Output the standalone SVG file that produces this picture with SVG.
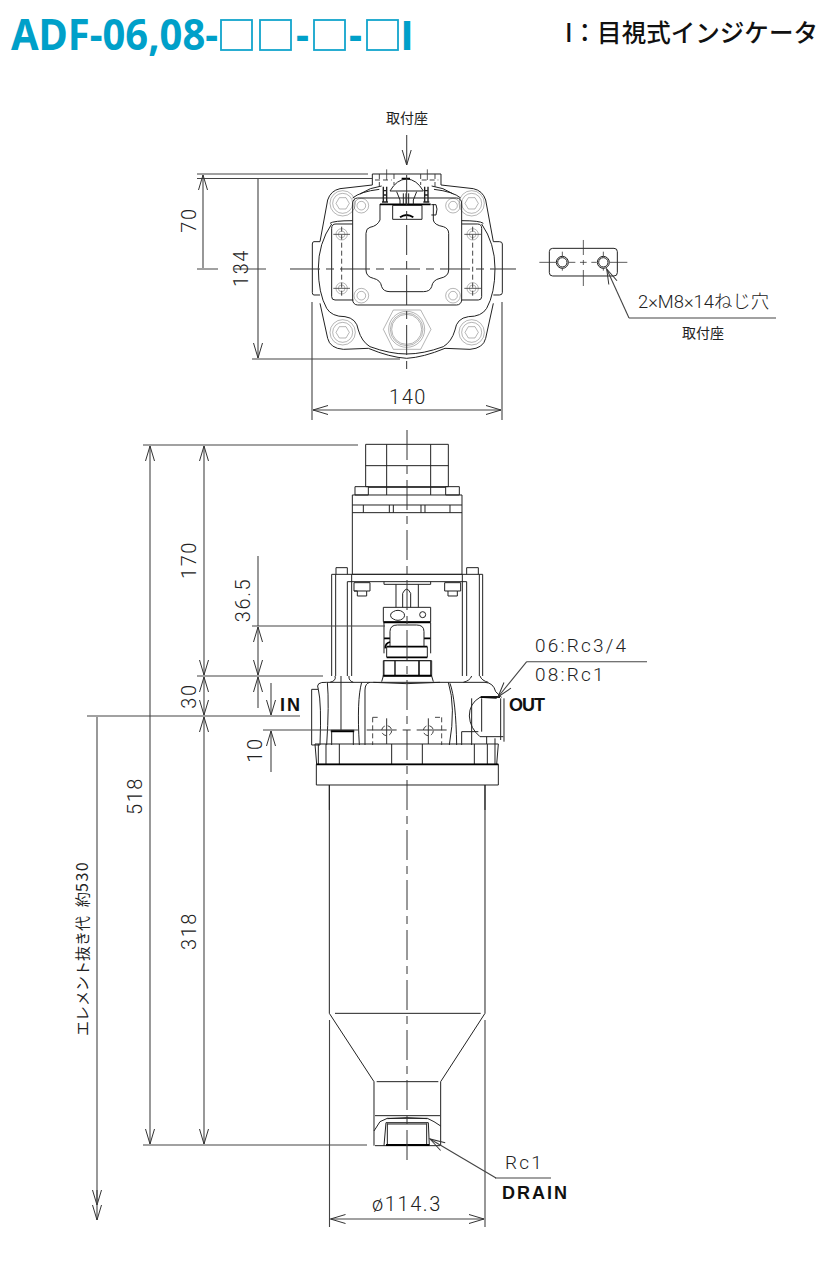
<svg xmlns="http://www.w3.org/2000/svg" width="824" height="1274" viewBox="0 0 824 1274">
<style>
.l{fill:none;stroke:#222;stroke-width:1;vector-effect:non-scaling-stroke}
.t{fill:none;stroke:#333;stroke-width:.8;vector-effect:non-scaling-stroke}
.k{fill:none;stroke:#000;stroke-width:1.8;vector-effect:non-scaling-stroke}
.h{fill:none;stroke:#222;stroke-width:1.400;vector-effect:non-scaling-stroke}
.d{fill:none;stroke:#333;stroke-width:.9;stroke-dasharray:5 3;vector-effect:non-scaling-stroke}
.c{fill:none;stroke:#333;stroke-width:1;stroke-dasharray:30 6 8 6;vector-effect:non-scaling-stroke}
.dim{fill:none;stroke:#444;stroke-width:1.1}
.a{marker-end:url(#ah)}
.s{marker-start:url(#ah);marker-end:url(#ah)}
text{font-family:"Liberation Sans",Arial,sans-serif;fill:#222}
.n{font-family:Roboto,"Liberation Sans",sans-serif;font-weight:300;font-size:20px;letter-spacing:1.6px;text-anchor:middle}
.b{font-family:"Liberation Sans",sans-serif;font-size:18px;font-weight:700;letter-spacing:2px;fill:#111}
.m{font-family:Roboto,"Liberation Sans",sans-serif;font-weight:300;font-size:19px;letter-spacing:2.2px}
.j{font-family:"Noto Sans CJK JP",sans-serif;font-size:14px;text-anchor:middle}
.box{fill:none;stroke:#12a5cc;stroke-width:1.8}
.ti{font-family:"Noto Sans",sans-serif;font-size:43px;font-weight:700;fill:#00a0c9}
</style>
<defs>
<marker id="ah" markerUnits="userSpaceOnUse" markerWidth="18" markerHeight="12" refX="16" refY="6" orient="auto-start-reverse" viewBox="0 0 18 12"><path d="M1 1.500L16 6L1 10.500" fill="none" stroke="#333" stroke-width="1"/></marker>
</defs>

<g id="title">
<text class="ti" x="11" y="50" textLength="207" lengthAdjust="spacingAndGlyphs">ADF-06,08-</text>
<rect class="box" x="221" y="20" width="31" height="30"/>
<rect class="box" x="260" y="20" width="31" height="30"/>
<text class="ti" x="296" y="50" textLength="13" lengthAdjust="spacingAndGlyphs">-</text>
<rect class="box" x="314" y="20" width="31" height="30"/>
<text class="ti" x="349" y="50" textLength="13" lengthAdjust="spacingAndGlyphs">-</text>
<rect class="box" x="367" y="20" width="31" height="30"/>
<text x="401" y="50" font-size="43" font-weight="700" style='font-family:"Liberation Sans",sans-serif;fill:#00a0c9' textLength="12" lengthAdjust="spacingAndGlyphs">I</text>
</g>
<g id="legend">
<text x="565" y="42" font-size="25" font-weight="500" textLength="253" lengthAdjust="spacingAndGlyphs" style='font-family:"Noto Sans CJK JP",sans-serif;fill:#111'>I：目視式インジケータ</text>
</g>

<g id="top-view" transform="translate(290 100) scale(.33333)">
<path class="l" d="M247 255L150 266Q122 272 113 300L90 425M90 610L113 715Q120 745 160 748L235 745Q300 772 350 775Q400 772 465 745L540 748Q580 745 587 715L610 610M453 255L550 266Q578 272 587 300L610 425"/>
<path class="l" d="M90 425H72Q67 425 67 432V578Q67 585 72 585H90M610 425H628Q637 425 637 432V578Q637 585 628 585H610"/>
<path class="l" d="M125 372Q85 430 85 505Q85 580 110 625Q125 650 165 650Q200 655 205 690Q215 725 240 740Q300 762 350 762Q400 762 460 740Q485 725 495 690Q500 655 535 650Q575 650 590 625Q615 580 615 505Q615 430 575 372"/>
<path class="l" d="M120 370Q130 362 188 362M580 370Q570 362 515 362M188 294Q210 275 268 268M512 294Q490 275 432 268"/>
<path class="l" d="M188 372H138Q125 372 125 385V590Q125 600 135 600H190M515 372H562Q575 372 575 385V590Q575 600 565 600H515"/>
<rect class="l" x="188" y="294" width="327" height="321" rx="15"/>
<path class="l" d="M270 312V360Q262 378 240 382Q228 385 228 400V510Q228 530 250 535Q272 540 275 560Q280 575 300 575H400Q420 575 425 560Q428 540 450 535Q476 530 476 510V400Q476 385 460 380Q432 375 430 360V312"/>
<rect class="l" x="308" y="316" width="88" height="42"/>
<path class="k" d="M330 352Q350 338 370 352M270 313H422M335 236H360"/>
<path class="l" d="M424 314H438Q444 325 438 345H424"/>
<path class="l" d="M247 255V222H453V255"/>
<path class="l" d="M210 282Q240 262 275 258M490 282Q460 262 425 258M300 273Q320 238 350 237Q380 238 400 273M300 273H400M320 275L330 300V313M380 275L370 300V313M340 280V313M348 280V313M356 280V313"/>
<path class="h" d="M280 260V306M290 260V306M404 260V306M414 260V306M280 272H290M280 285H290M404 272H414M404 285H414M276 306H294M400 306H418"/>
<path class="d" d="M268 222V262M312 222V255M392 222V255M435 222V262M255 240H305M395 240H445"/>
<path class="t" d="M290 208V240M412 208V240"/>
<g class="l">
<circle cx="158" cy="310" r="38"/><circle cx="158" cy="310" r="30"/><path d="M178 310L168 327H148L138 310L148 293H168Z"/>
<circle cx="545" cy="310" r="38"/><circle cx="545" cy="310" r="30"/><path d="M565 310L555 327H535L525 310L535 293H555Z"/>
<circle cx="158" cy="697" r="38"/><circle cx="158" cy="697" r="30"/><path d="M178 697L168 714H148L138 697L148 680H168Z"/>
<circle cx="545" cy="697" r="38"/><circle cx="545" cy="697" r="30"/><path d="M565 697L555 714H535L525 697L535 680H555Z"/>
<circle cx="214" cy="317" r="22"/><circle cx="214" cy="317" r="13"/>
<circle cx="489" cy="317" r="22"/><circle cx="489" cy="317" r="13"/>
<circle cx="214" cy="587" r="22"/><circle cx="214" cy="587" r="13"/>
<circle cx="489" cy="587" r="22"/><circle cx="489" cy="587" r="13"/>
<circle cx="155" cy="403" r="17"/><circle cx="155" cy="403" r="10"/>
<circle cx="548" cy="403" r="17"/><circle cx="548" cy="403" r="10"/>
<circle cx="155" cy="565" r="17"/><circle cx="155" cy="565" r="10"/>
<circle cx="548" cy="565" r="17"/><circle cx="548" cy="565" r="10"/>
<path d="M423 688L392 630H310L280 688L310 748H392Z"/><circle cx="350" cy="688" r="54"/><circle cx="350" cy="688" r="49"/><circle cx="350" cy="688" r="45"/>
</g>
<path class="d" d="M155 380V590M548 380V590"/>
<path class="t" d="M130 403H180M130 565H180M523 403H573M523 565H573"/>
<path class="c" d="M0 507H678M350 225V812"/>
</g>

<g id="mounting-seat" transform="translate(530 230) scale(.33333)">
<rect class="l" x="58" y="55" width="204" height="83" rx="10"/>
<circle class="l" cx="97" cy="97" r="18"/><circle class="l" cx="97" cy="97" r="14"/><circle class="l" cx="220" cy="97" r="18"/><circle class="l" cx="220" cy="97" r="14"/>
<path class="t" d="M28 97H78M116 97H136M150 97H170M184 97H200M240 97H292M97 65V80M97 114V122M220 65V80M220 114V122M160 30V75M160 90V105M160 120V168"/>
</g>

<g id="side-view-upper" transform="translate(310 430) scale(.33333)">
<rect class="l" x="167" y="43" width="248" height="127"/>
<path class="l" d="M167 107H415M230 43V195M362 43V195M175 172H407"/>
<rect class="l" x="135" y="170" width="40" height="25"/><rect class="l" x="407" y="170" width="41" height="25"/>
<rect class="l" x="127" y="195" width="329" height="238"/>
<path class="l" d="M127 225H456M127 248H456M160 225V248M238 225V248M250 225V248M333 225V248M345 225V248M420 225V248"/>
<path class="l" d="M65 433H518M65 433V738M77 433V738M112 455V738M125 433V738M457 433V738M470 455V738M508 433V738M518 433V738M112 455H470"/>
<path class="l" d="M78 433V413H112V433M470 433V413H505V433M222 455V463H362V455M258 463V532M325 463V532M278 532V490Q290 465 302 490V532"/>
<path class="l" d="M132 458H180V483H170V498H142V483H132ZM404 458H452V483H442V498H414V483H404ZM132 483H170M414 483H442"/>
<path class="l" d="M220 532H362V575H220ZM250 545A20 15 0 1 1 250 567A14 12 0 0 1 250 545Z"/><circle class="l" cx="338" cy="554" r="9"/>
<path class="k" d="M220 577H362M222 625H240M342 625H362M230 650H352M230 682H352"/>
<path class="l" d="M240 650V605Q240 585 262 585H320Q342 585 342 605V650M222 578V670M362 578V670M230 650V682M352 650V682M222 692H362V738H222ZM255 692V738M326 692V738"/>
<path class="k" d="M226 655Q225 640 240 636"/>
</g>

<g id="side-view-body" transform="translate(240 640) scale(.33333)">
<path class="l" d="M215 148H235Q245 190 240 315H215ZM235 148Q225 125 260 127H735Q760 128 767 155M262 127Q268 190 260 315M303 108V275M285 108Q290 122 270 127M327 108Q325 122 340 127M358 315Q350 180 365 127M375 315V150Q375 130 390 127M628 315Q648 200 625 127M650 315Q648 180 630 130M695 315V175M695 108Q690 122 670 127M720 108Q725 122 745 127"/>
<path class="l" d="M425 125L430 108V62H575V108L580 125M465 62V105M538 62V105M428 108H575M400 127Q500 135 600 127"/>
<path class="k" d="M430 107H575"/>
<rect class="k" x="275" y="272" width="65" height="2"/>
<path class="l" d="M275 275V315M340 275V315M665 315V275H715M767 155L785 172"/>
<path class="l" d="M770 175L720 172Q688 190 688 228Q690 265 720 290H790M782 175V300M792 175V305M725 175V275M740 290V312M765 295V312"/>
<path class="k" d="M722 171H780"/>
<path class="d" d="M398 232V315M605 232V315M398 232H420M585 232H605"/>
<path class="c" d="M380 270H625M440 235V312M565 235V312"/>
<circle class="d" cx="440" cy="272" r="15"/><circle class="d" cx="565" cy="272" r="15"/>
<path class="l" d="M225 312H775M225 312L230 373M775 312L770 373M235 312V373M258 312V373M298 312V373M455 312V373M547 312V373M703 312V373M742 312V373M765 312V373"/>
<rect class="l" x="229" y="373" width="546" height="62"/>
<path class="k" d="M229 373H775"/>
<path class="l" d="M268 435V510M735 435V510"/>
</g>

<g id="side-view-lower" transform="translate(310 1000) scale(.33333)">
<path class="l" d="M58 -645V40M525 -645V40M58 40L192 245V437M525 40L392 245V437M75 40H512M200 245H385M195 347H390M192 393L210 365L232 355H352L372 365L392 378M195 437H390"/>
<path class="l" d="M222 437L228 368H355L358 437M232 370V437M350 370V437M232 372H350M232 356Q290 350 352 356"/>
<path class="k" d="M228 435H358"/>
</g>

<path class="c" d="M407 430V1160"/>

<g id="connectors">
<g class="dim">
<path class="a" d="M406.700 135V165"/>
<path d="M197 174H368M197 178.500H372M197 269H218M234 269H266M252 359H400"/>
<path d="M312 302V420M502 302V420"/>
<path class="s" d="M313 410H501"/>
<path class="s" d="M203 175V268M258 179V358"/>
<path d="M143 445H358M143 1145H367M197 676H323M252 626H385M87 716H300M263 730H358"/>
<path class="s" d="M150 446V1144"/>
<path class="s" d="M204 446V675"/>
<path class="s" d="M204 677V715"/>
<path class="s" d="M204 717V1144"/>
<path d="M258 556V626"/>
<path class="s" d="M258 627V675"/>
<path class="a" d="M258 708V677"/>
<path class="a" d="M271 683V715"/>
<path class="a" d="M271 772V731"/>
<path class="a" d="M97 717V1205"/>
<path class="a" d="M97 1190V1220"/>
<path class="a" d="M526.700 661.700L498 697"/>
<path d="M526.700 661.700H647"/>
<path class="a" d="M496 1178L430 1139"/>
<path d="M495 1178H551"/>
<path d="M329.500 1020V1227M485 1020V1227"/>
<path class="s" d="M330.500 1219H484"/>
<path class="a" d="M629 318L606.700 269"/>
<path d="M629 318H776"/>
</g>
</g>

<g id="labels">
<text class="j" x="407" y="123">取付座</text>
<text class="j" x="703" y="338">取付座</text>
<text x="638" y="308" font-size="18" font-weight="300" style='font-family:Roboto,"Noto Sans CJK JP",sans-serif' textLength="131" lengthAdjust="spacingAndGlyphs">2×M8×14ねじ穴</text>
<text class="n" x="408" y="404">140</text>
<text class="n" transform="translate(196 220) rotate(-90)">70</text>
<text class="n" transform="translate(248 268) rotate(-90)">134</text>
<text class="n" transform="translate(196 560) rotate(-90)">170</text>
<text class="n" transform="translate(250 600) rotate(-90)">36.5</text>
<text class="n" transform="translate(196 696) rotate(-90)">30</text>
<text class="n" transform="translate(262 750) rotate(-90)">10</text>
<text class="n" transform="translate(142 796) rotate(-90)">518</text>
<text class="n" transform="translate(196 931) rotate(-90)">318</text>
<text transform="translate(88 1036) rotate(-90)" font-size="15" style='font-family:"Noto Sans CJK JP",sans-serif;fill:#222'>エレメント抜き代<tspan dx="9">約</tspan><tspan style="letter-spacing:1.500px;font-size:16px">530</tspan></text>
<text class="b" x="280" y="711" letter-spacing="3">IN</text>
<text class="b" x="509" y="711" textLength="38">OUT</text>
<text class="m" x="535" y="652">06:Rc3/4</text>
<text class="m" x="535" y="681">08:Rc1</text>
<text class="m" x="505" y="1169">Rc1</text>
<text class="b" x="502" y="1199">DRAIN</text>
<text class="n" x="407" y="1211">ø114.3</text>
</g>
</svg>
